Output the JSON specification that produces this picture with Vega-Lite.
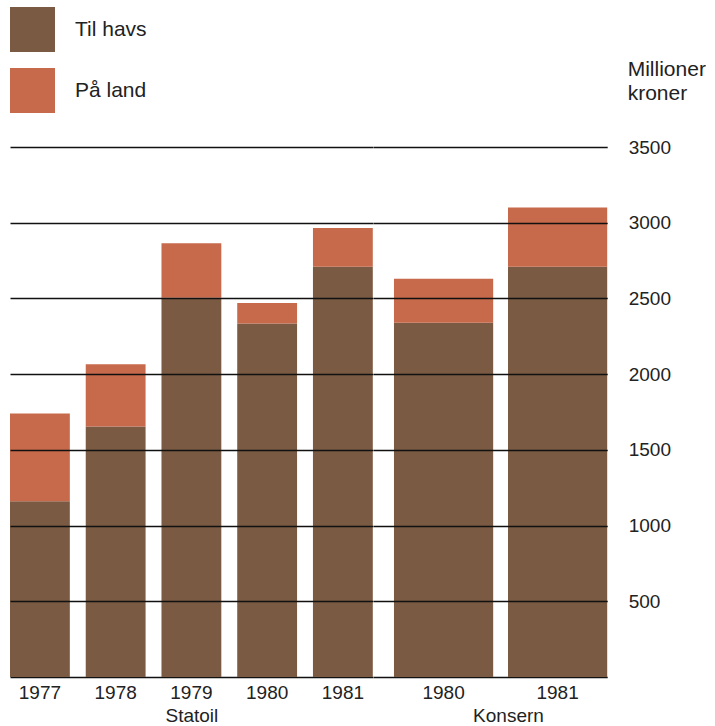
{
  "$schema": "https://vega.github.io/schema/vega-lite/v6.json",
  "autosize": {"type": "pad"},
  "padding": {"left": 10, "top": 7, "right": 0, "bottom": 0},
  "background": "white",
  "config": {
    "font": "Liberation Sans",
    "view": {"stroke": null},
    "concat": {"spacing": 0},
    "axis": {"labelColor": "#222", "titleColor": "#222", "labelFontSize": 19, "titleFontSize": 19, "titleFontWeight": "normal", "ticks": false}
  },
  "datasets": {
    "inv": [
      {"group": "Statoil", "year": "1977", "type": "Til havs", "value": 1160},
      {"group": "Statoil", "year": "1977", "type": "På land", "value": 580},
      {"group": "Statoil", "year": "1978", "type": "Til havs", "value": 1655},
      {"group": "Statoil", "year": "1978", "type": "På land", "value": 410},
      {"group": "Statoil", "year": "1979", "type": "Til havs", "value": 2505},
      {"group": "Statoil", "year": "1979", "type": "På land", "value": 360},
      {"group": "Statoil", "year": "1980", "type": "Til havs", "value": 2335},
      {"group": "Statoil", "year": "1980", "type": "På land", "value": 135},
      {"group": "Statoil", "year": "1981", "type": "Til havs", "value": 2710},
      {"group": "Statoil", "year": "1981", "type": "På land", "value": 255},
      {"group": "Konsern", "year": "1980", "type": "Til havs", "value": 2340},
      {"group": "Konsern", "year": "1980", "type": "På land", "value": 290},
      {"group": "Konsern", "year": "1981", "type": "Til havs", "value": 2710},
      {"group": "Konsern", "year": "1981", "type": "På land", "value": 390}
    ]
  },
  "hconcat": [
    {
      "width": 362.8,
      "height": 530,
      "data": {"name": "inv"},
      "transform": [{"filter": "datum.group === 'Statoil'"}],
      "mark": {"type": "bar", "strokeWidth": 0},
      "encoding": {
        "x": {"field": "year", "type": "nominal", "scale": {"paddingInner": 0.21, "paddingOuter": 0},
              "axis": {"title": "Statoil", "labelAngle": 0, "labelPadding": 6, "titlePadding": 4, "domain": true, "domainColor": "#111", "domainWidth": 1.5}},
        "y": {"field": "value", "type": "quantitative", "aggregate": "sum", "stack": "zero",
              "scale": {"domain": [0, 3500], "nice": false},
              "axis": {"values": [500, 1000, 1500, 2000, 2500, 3000, 3500], "labels": false, "domain": false, "title": null, "grid": true, "gridColor": "#111", "gridWidth": 1.5, "gridOpacity": 1, "zindex": 1}},
        "color": {"field": "type", "type": "nominal",
                  "scale": {"domain": ["Til havs", "På land"], "range": ["#7a5a42", "#c7694b"]},
                  "legend": {"orient": "none", "legendX": 0, "legendY": -140, "title": null, "symbolType": "square", "symbolSize": 2025, "symbolStrokeWidth": 0, "symbolOpacity": 1, "labelFontSize": 21, "labelColor": "#222", "labelOffset": 20, "rowPadding": 16, "padding": 0}},
        "order": {"field": "type", "sort": "descending"}
      }
    },
    {
      "width": 234.2,
      "height": 530,
      "data": {"name": "inv"},
      "transform": [{"filter": "datum.group === 'Konsern'"}],
      "mark": {"type": "bar", "strokeWidth": 0},
      "encoding": {
        "x": {"field": "year", "type": "nominal", "scale": {"paddingInner": 0.13, "paddingOuter": 0.092, "align": 1},
              "axis": {"title": "Konsern", "labelAngle": 0, "labelPadding": 6, "titlePadding": 4, "titleX": 135, "domain": true, "domainColor": "#111", "domainWidth": 1.5}},
        "y": {"field": "value", "type": "quantitative", "aggregate": "sum", "stack": "zero",
              "scale": {"domain": [0, 3500], "nice": false},
              "axis": {"orient": "right", "values": [500, 1000, 1500, 2000, 2500, 3000, 3500], "format": "d", "labelPadding": 21, "labelFontSize": 19, "domain": false,
                       "title": ["Millioner", "kroner"], "titleAngle": 0, "titleAlign": "left", "titleBaseline": "top", "titleX": 20, "titleY": -89, "titleLineHeight": 24, "titleFontSize": 21,
                       "grid": true, "gridColor": "#111", "gridWidth": 1.5, "gridOpacity": 1, "zindex": 1}},
        "color": {"field": "type", "type": "nominal",
                  "scale": {"domain": ["Til havs", "På land"], "range": ["#7a5a42", "#c7694b"]}},
        "order": {"field": "type", "sort": "descending"}
      }
    }
  ]
}
